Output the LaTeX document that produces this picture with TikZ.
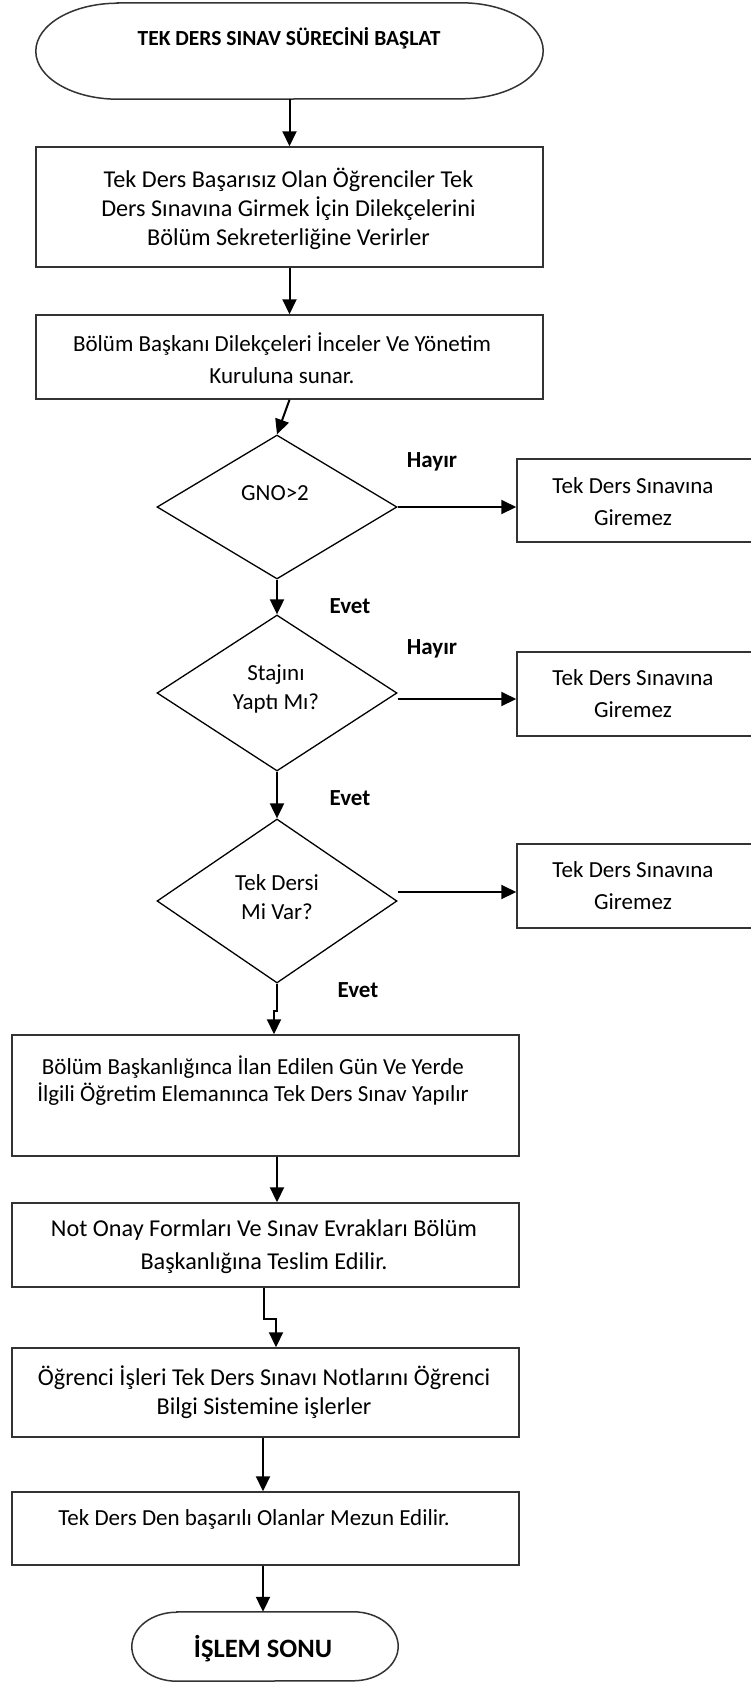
\documentclass[tikz,border=0pt]{standalone}
\usepackage{fontspec}
\setmainfont{Carlito}
\usetikzlibrary{arrows.meta,shapes.geometric}

\begin{document}
\begin{tikzpicture}[x=1pt,y=1pt,
  frame/.style={draw=black!80, line width=1.5pt},
  procbox/.style={frame, rectangle, inner sep=0pt},
  decision/.style={draw=black, line width=1.3pt, diamond, inner sep=0pt},
  flow/.style={draw=black, line width=2pt, -{Triangle[length=15pt,width=14pt]}},
  body/.style={font=\fontsize{23}{29}\selectfont, align=center, inner sep=0pt},
  bodylg/.style={body, font=\fontsize{24.2}{29}\selectfont},
  tag/.style={font=\bfseries\fontsize{23}{28}\selectfont, inner sep=0pt},
]
\useasboundingbox (0,0) rectangle (751,-1682);
\clip (0,0) rectangle (751,-1682);

% start terminator with flattened elliptical ends
\node (start) at (289.5,-51) [minimum width=507, minimum height=96, inner sep=0pt] {};
\draw[frame] ([xshift=82]start.north west) -- ([xshift=-82]start.north east)
  arc[start angle=90,end angle=-90,x radius=82,y radius=48]
  -- ([xshift=82]start.south west)
  arc[start angle=270,end angle=90,x radius=82,y radius=48] -- cycle;
\node[font=\bfseries\fontsize{21.5}{26}\selectfont, inner sep=0pt] (starttxt) at (289,-38) {TEK DERS SINAV SÜRECİNİ BAŞLAT};

% process boxes
\node[procbox, minimum width=507, minimum height=120] (b1) at (289.5,-207) {};
\node[bodylg] (t1) at (288.5,-208.5) {Tek Ders Başarısız Olan Öğrenciler Tek\\Ders Sınavına Girmek İçin Dilekçelerini\\Bölüm Sekreterliğine Verirler};

\node[procbox, minimum width=507, minimum height=84] (b2) at (289.5,-357) {};
\node[body, font=\fontsize{23}{32}\selectfont] (t2) at (282,-358) {Bölüm Başkanı Dilekçeleri İnceler Ve Yönetim\\Kuruluna sunar.};

% decisions
\node[decision, minimum width=240, minimum height=144] (d1) at (277,-507) {};
\node[body] (dt1) at (275,-493) {GNO>2};
\node[decision, minimum width=240, minimum height=156] (d2) at (277,-693) {};
\node[body] (dt2) at (276,-689) {Stajını\\Yaptı Mı?};
\node[decision, minimum width=240, minimum height=164] (d3) at (277,-901) {};
\node[body] (dt3) at (277,-897) {Tek Dersi\\Mi Var?};

% rejection boxes on the right
\node[procbox, minimum width=283, minimum height=83] (nb1) at (658.5,-500.5) {};
\node[body, font=\fontsize{23}{32}\selectfont] (nt1) at (633,-502) {Tek Ders Sınavına\\Giremez};
\node[procbox, minimum width=283, minimum height=84] (nb2) at (658.5,-694) {};
\node[body, font=\fontsize{23}{32}\selectfont] (nt2) at (633,-694) {Tek Ders Sınavına\\Giremez};
\node[procbox, minimum width=283, minimum height=84] (nb3) at (658.5,-886) {};
\node[body, font=\fontsize{23}{32}\selectfont] (nt3) at (633,-886) {Tek Ders Sınavına\\Giremez};

% branch labels
\node[tag] (h1) at (432,-462) {Hayır};
\node[tag] (h2) at (432,-649) {Hayır};
\node[tag] (e1) at (350,-606) {Evet};
\node[tag] (e2) at (350,-798) {Evet};
\node[tag] (e3) at (358,-990) {Evet};

% lower process boxes
\node[procbox, minimum width=507, minimum height=121] (b3) at (265.5,-1095.5) {};
\node[body, font=\fontsize{23}{27}\selectfont] (t3) at (253,-1080.5) {Bölüm Başkanlığınca İlan Edilen Gün Ve Yerde\\İlgili Öğretim Elemanınca Tek Ders Sınav Yapılır};

\node[procbox, minimum width=507, minimum height=84] (b4) at (265.5,-1245) {};
\node[bodylg, font=\fontsize{24.2}{33}\selectfont] (t4) at (264,-1246.5) {Not Onay Formları Ve Sınav Evrakları Bölüm\\Başkanlığına Teslim Edilir.};

\node[procbox, minimum width=507, minimum height=89] (b5) at (265.5,-1392.5) {};
\node[bodylg] (t5) at (264,-1392.5) {Öğrenci İşleri Tek Ders Sınavı Notlarını Öğrenci\\Bilgi Sistemine işlerler};

\node[procbox, minimum width=507, minimum height=73] (b6) at (265.5,-1528.5) {};
\node[body] (t6) at (254,-1519) {Tek Ders Den başarılı Olanlar Mezun Edilir.};

% end terminator
\node (stop) at (265,-1646.5) [minimum width=266, minimum height=69, inner sep=0pt] {};
\draw[frame] ([xshift=45]stop.north west) -- ([xshift=-45]stop.north east)
  arc[start angle=90,end angle=-90,x radius=45,y radius=34.5]
  -- ([xshift=45]stop.south west)
  arc[start angle=270,end angle=90,x radius=45,y radius=34.5] -- cycle;
\node[font=\bfseries\fontsize{26.5}{30}\selectfont, inner sep=0pt] (stoptxt) at (263,-1649) {İŞLEM SONU};

% connectors
\draw[flow] (start) -- (b1);
\draw[flow] (b1) -- (b2);
\draw[flow] (b2.south) -- (d1.north);
\draw[flow] (d1.east) -- (d1.east -| nb1.west);
\draw[flow] ([yshift=-6]d2.east) -- ([yshift=-6]d2.east -| nb2.west);
\draw[flow] ([yshift=9]d3.east) -- ([yshift=9]d3.east -| nb3.west);
\draw[flow] (d1.south) -- (d2.north);
\draw[flow] (d2.south) -- (d3.north);
\draw[flow] (d3.south) -- ++(0,-27) -- ++(-3,0) -- ([xshift=-3]d3.south |- b3.north);
\draw[flow] (d3.south |- b3.south) -- (d3.south |- b4.north);
\draw[flow] ([xshift=-1.5]b4.south) -- ++(0,-31) -- ++(12,0) -- ([xshift=10.5]b5.north);
\draw[flow] ([xshift=-2.5]b5.south) -- ([xshift=-2.5]b6.north);
\draw[flow] ([xshift=-2.5]b6.south) -- ([xshift=-2]stop.north);
\end{tikzpicture}
\end{document}
